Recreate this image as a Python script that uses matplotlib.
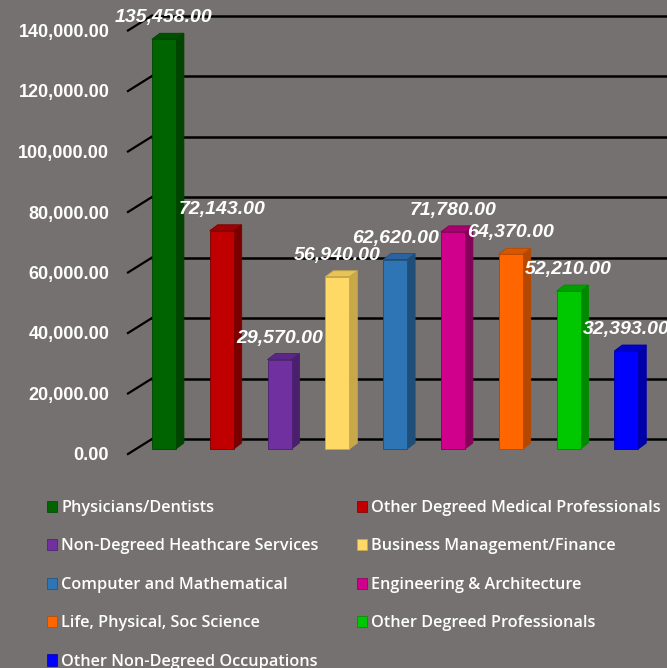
import matplotlib
matplotlib.use("agg")
import matplotlib.pyplot as plt
import matplotlib.transforms as mtrans
from matplotlib.patches import Polygon, Rectangle

# data
categories = ["Physicians/Dentists", "Other Degreed Medical Professionals",
              "Non-Degreed Heathcare Services", "Business Management/Finance",
              "Computer and Mathematical", "Engineering & Architecture",
              "Life, Physical, Soc Science", "Other Degreed Professionals",
              "Other Non-Degreed Occupations"]
values = [135458, 72143, 29570, 56940, 62620, 71780, 64370, 52210, 32393]
yticks = [0, 20000, 40000, 60000, 80000, 100000, 120000, 140000]

front_colors = ["#006400", "#C00000", "#7030A0", "#FFD966", "#2E75B6",
                "#D0008C", "#FF6600", "#00C800", "#0000FF"]
side_colors = ["#004400", "#7A0000", "#4A1F6E", "#C9A84A", "#1F4E79",
               "#850058", "#B54800", "#008A00", "#0000A8"]
top_colors = ["#005000", "#A00000", "#5C2688", "#E8C457", "#2A64A0",
              "#A8006F", "#D85600", "#00A000", "#0000CC"]

bg = "#767171"
W, H = 667, 668
fig = plt.figure(figsize=(W / 100, H / 100), dpi=100, facecolor=bg)

# front-axis geometry in pixels
ax_left, ax_right = 128, 128 + 9 * 57.8
ax_bot, ax_top = 454, 30.5  # from top of image
ax = fig.add_axes([ax_left / W, 1 - ax_bot / H, (ax_right - ax_left) / W,
                   (ax_bot - ax_top) / H])
ax.set_facecolor("none")
ax.set_xlim(-0.5, 8.5)
ax.set_ylim(0, 140000)
for s in ax.spines.values():
    s.set_visible(False)
ax.set_xticks([])
ax.set_yticks(yticks)
ax.set_yticklabels(["{:,.2f}".format(v) for v in yticks])
ax.tick_params(axis="y", length=0, pad=13.5, colors="white")
for lab in ax.get_yticklabels():
    lab.set_fontfamily(["Liberation Sans", "DejaVu Sans"])
    lab.set_fontweight("bold")
    lab.set_fontsize(13)

px_x = (ax_right - ax_left) / 9.0          # pixels per category
px_y = (ax_bot - ax_top) / 140000.0        # pixels per unit

def shifted(dx, dy):
    return ax.transData + mtrans.ScaledTranslation(dx / 100, dy / 100, fig.dpi_scale_trans)

# back wall gridlines + diagonal side-wall ticks
back = shifted(24, 15)
for v in yticks:
    ax.plot([-0.5, 9.0], [v, v], color="black", lw=1.8, transform=back,
            clip_on=False, zorder=1)
    ax.plot([-0.5, -0.5 + 24 / px_x], [v, v + 15 / px_y], color="black",
            lw=1.6, clip_on=False, zorder=1)

# bars (front face, side face, top face)
bw = 24 / px_x
ddx = 8 / px_x
ddy = 6 / px_y
bar_t = shifted(7, 5)
for i, v in enumerate(values):
    x0, x1 = i - bw / 2, i + bw / 2
    ax.add_patch(Polygon([(x1, 0), (x1 + ddx, ddy), (x1 + ddx, v + ddy), (x1, v)],
                         closed=True, facecolor=side_colors[i], edgecolor=side_colors[i],
                         lw=0.6, transform=bar_t, zorder=3, clip_on=False))
    ax.add_patch(Polygon([(x0, v), (x1, v), (x1 + ddx, v + ddy), (x0 + ddx, v + ddy)],
                         closed=True, facecolor=top_colors[i], edgecolor=side_colors[i],
                         lw=0.6, transform=bar_t, zorder=3, clip_on=False))
    ax.add_patch(Rectangle((x0, 0), bw, v, facecolor=front_colors[i],
                           edgecolor=side_colors[i], lw=0.6, transform=bar_t,
                           zorder=4, clip_on=False))
    ax.annotate("{:,.2f}".format(v), (i, v), xytext=(7, 22), textcoords="offset pixels",
                ha="center", va="baseline", color="white", fontsize=14,
                fontweight="bold", fontstyle="italic",
                family=["Liberation Sans", "DejaVu Sans"], zorder=6,
                annotation_clip=False)

# legend: two columns, row-wise order
handles = [Rectangle((0, 0), 1, 1, facecolor=front_colors[i], edgecolor=side_colors[i], lw=0.5)
           for i in range(len(categories))]
order = [0, 2, 4, 6, 8, 1, 3, 5, 7]
leg = fig.legend([handles[i] for i in order], [categories[i] for i in order],
                 loc="upper left", bbox_to_anchor=(47 / W, 1 - 500 / H), ncol=2,
                 frameon=False, borderpad=0, borderaxespad=0,
                 handlelength=0.62, handleheight=0.68, handletextpad=0.25,
                 labelspacing=1.38, columnspacing=2.35,
                 prop={"family": ["Open Sans", "DejaVu Sans"], "weight": "semibold",
                       "size": 11.7})
for t in leg.get_texts():
    t.set_color("white")

plt.savefig("out.png", dpi=100, facecolor=bg)
plt.close()
